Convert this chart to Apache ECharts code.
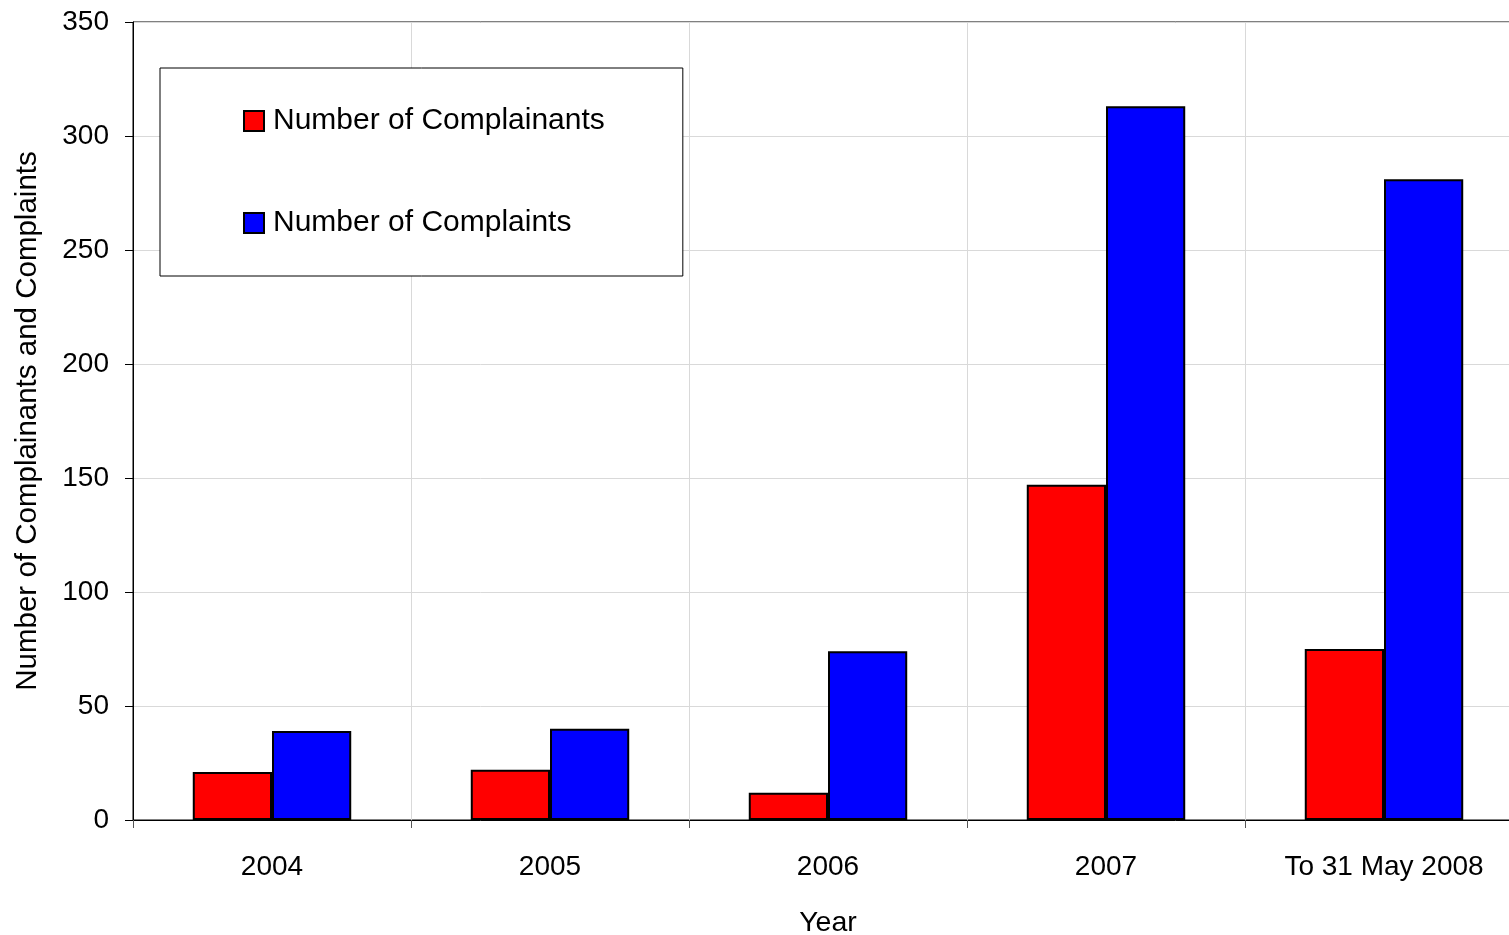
<!DOCTYPE html>
<html>
<head>
<meta charset="utf-8">
<script src="https://cdn.jsdelivr.net/npm/echarts@6/dist/echarts.min.js"></script>
<style>
html,body{margin:0;padding:0;background:#fff;overflow:hidden;}
#chart{width:1523px;height:935px;}
</style>
</head>
<body>
<div id="chart"></div>
<script>
var categories = ['2004', '2005', '2006', '2007', 'To 31 May 2008'];
var complainants = [21, 22, 12, 147, 75];
var complaints = [39, 40, 74, 313, 281];
var yTicks = { min: 0, max: 350, interval: 50 };

var FONT = 'Liberation Sans, Arial, sans-serif';
var chart = echarts.init(document.getElementById('chart'));
chart.setOption({
  animation: false,
  backgroundColor: '#fff',
  grid: { left: 133, top: 22, width: 1390, height: 798, outerBoundsMode: 'none', containLabel: false, show: true, borderColor: '#000', borderWidth: 1, backgroundColor: 'transparent' },
  legend: {
    orient: 'vertical',
    left: 160, top: 68,
    padding: [38, 78, 38, 83],
    itemGap: 72,
    itemWidth: 20, itemHeight: 20,
    icon: 'rect',
    backgroundColor: '#fff',
    borderColor: '#000',
    borderWidth: 1,
    textStyle: { fontFamily: FONT, fontSize: 30, color: '#000', padding: [0, 0, 0, 4] },
    data: ['Number of Complainants', 'Number of Complaints']
  },
  xAxis: {
    type: 'category',
    data: categories,
    name: 'Year',
    nameLocation: 'middle',
    nameGap: 89,
    nameTextStyle: { fontFamily: FONT, fontSize: 28.5, color: '#000' },
    axisLine: { lineStyle: { color: '#000', width: 1 } },
    axisTick: { show: true, length: 8, lineStyle: { color: '#555' } },
    axisLabel: { fontFamily: FONT, fontSize: 28, color: '#000', margin: 33 },
    splitLine: { show: true, lineStyle: { color: '#d9d9d9', width: 1 } }
  },
  yAxis: {
    type: 'value',
    min: yTicks.min, max: yTicks.max, interval: yTicks.interval,
    name: 'Number of Complainants and Complaints',
    nameLocation: 'middle',
    nameGap: 90,
    nameTextStyle: { fontFamily: FONT, fontSize: 29.5, color: '#000' },
    axisLine: { show: true, lineStyle: { color: '#000', width: 1 } },
    axisTick: { show: true, length: 8, lineStyle: { color: '#000' } },
    axisLabel: { fontFamily: FONT, fontSize: 28, color: '#000', margin: 24 },
    splitLine: { show: true, lineStyle: { color: '#d9d9d9', width: 1 } }
  },
  series: [
    {
      name: 'Number of Complainants', type: 'bar', data: complainants,
      barGap: '0%', barCategoryGap: '43%',
      itemStyle: { color: '#ff0000', borderColor: '#000', borderWidth: 2 }
    },
    {
      name: 'Number of Complaints', type: 'bar', data: complaints,
      barGap: '0%', barCategoryGap: '43%',
      itemStyle: { color: '#0000ff', borderColor: '#000', borderWidth: 2 }
    }
  ]
});
</script>
</body>
</html>
